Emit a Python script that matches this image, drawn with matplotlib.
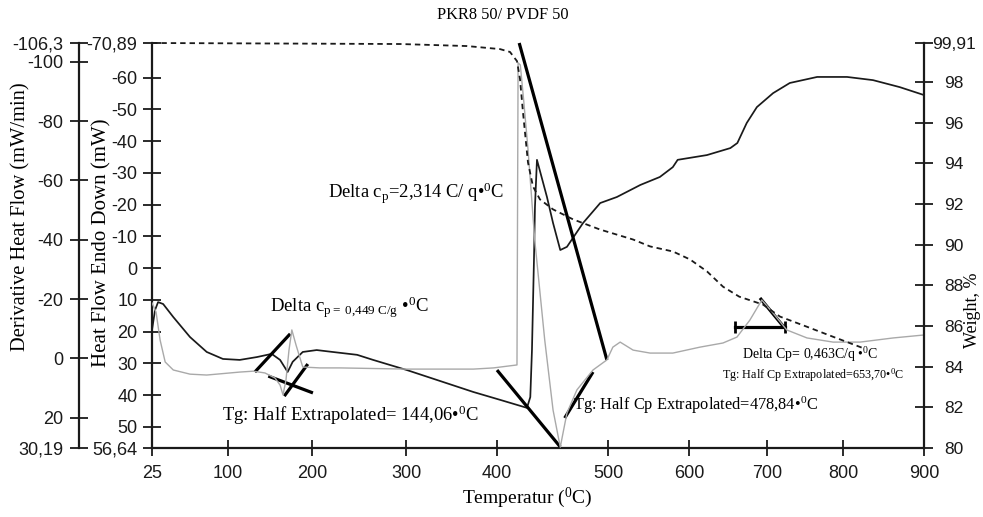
import numpy as np
import matplotlib

matplotlib.use("Agg")
import matplotlib.pyplot as plt

plt.rcParams["font.family"] = ["Liberation Serif", "DejaVu Serif"]
plt.rcParams["mathtext.fontset"] = "custom"
plt.rcParams["mathtext.rm"] = "Liberation Serif"
plt.rcParams["mathtext.it"] = "Liberation Serif:italic"

# x axis: printed temperature labels are not evenly spaced in the original
TEMP_TICKS = [25, 100, 200, 300, 400, 500, 600, 700, 800, 900]
TICK_POS = [152, 228, 312, 406, 497, 608, 689, 767, 843, 924]

# heat flow (mW), black solid
HF_T = [25, 28, 31, 36, 46, 62.5, 79, 95, 114, 134.5,
        152, 162, 171, 177, 189, 205, 222, 248, 265, 301,
        337, 374, 403, 427, 430, 431.5, 433.3, 434.2, 436, 445,
        450.5, 457, 463, 477.5, 493, 511, 540, 564, 580, 586,
        623, 653, 662, 674, 687, 708, 730, 766, 805, 837,
        870, 900]
HF = [19.5, 13.2, 10.7, 11.3, 15.4, 21.7, 26.4, 28.6, 28.9, 28.0,
      27.0, 28.9, 32.7, 29.5, 26.4, 25.8, 26.4, 27.3, 28.9, 32.1,
      35.5, 39.0, 41.5, 44.0, 40.6, 25.8, -2.6, -19.3, -34.1, -22.4,
      -14.2, -5.7, -6.7, -14.2, -20.5, -22.4, -26.2, -28.7, -31.8, -34.1,
      -35.6, -37.8, -39.4, -45.7, -50.7, -55.1, -58.3, -60.2, -60.2, -59.2,
      -57.0, -54.5]

# derivative heat flow (mW/min), grey
DHF_T = [25, 29, 33, 38, 46, 62.5, 79, 114, 130, 144,
         156, 162, 165.5, 169, 172.6, 176, 181, 189, 208.5, 230,
         301, 374, 396, 418, 419, 421, 424, 428, 434, 443,
         450.5, 457, 463, 472, 486.5, 499, 506, 515, 531, 552,
         580, 614, 643.6, 661.5, 678, 693.4, 708, 726, 752.6, 787,
         821, 862, 900]
DHF = [-18.7, -15.6, -6.2, 1.2, 3.9, 5.3, 5.6, 4.6, 4.3, 4.9,
       6.6, 9.0, 12.3, 7.3, -2.8, -9.6, -4.5, 2.9, 3.2, 3.2,
       3.6, 3.6, 3.2, 2.2, -99.6, -98.9, -87.1, -70.2, -39.9, -6.2,
       17.4, 29.9, 18.4, 10.6, 3.9, 0.5, -3.8, -5.5, -2.8, -1.8,
       -1.8, -3.8, -5.2, -7.2, -12.9, -19.7, -15.3, -9.6, -6.9, -5.5,
       -5.5, -6.9, -7.9]

# weight (%), dashed
W_T = [25, 294, 367, 402.7, 411.7, 418, 420.7, 423.4, 427.9, 432.4,
       438.7, 450.5, 468.5, 492.8, 530.9, 551.9, 580.2, 601.3, 623.1, 643.6,
       664.4, 694.9, 717.1, 752.6, 786.8, 823.5]
W = [99.91, 99.86, 99.76, 99.61, 99.47, 99.02, 98.14, 96.51, 94.04, 92.86,
     92.22, 91.73, 91.24, 90.74, 90.25, 89.91, 89.66, 89.27, 88.68, 87.93,
     87.44, 87.05, 86.46, 85.96, 85.47, 84.93]

# tangent construction lines (temperature, heat flow)
TAN_T = [[132, 174], [148, 201], [167, 195], [420, 499], [400, 457], [461, 486.5], [691, 722]]
TAN_H = [[32.7, 20.7], [34.0, 39.3], [40.3, 30.2], [-70.89, 28.9], [32.1, 56.3], [47.2, 32.7], [9.4, 18.5]]
STEP_T = [659, 724]
STEP_H = [18.5, 18.5]

HF_TICKS = [-70.89, -60, -50, -40, -30, -20, -10, 0, 10, 20, 30, 40, 50, 56.64]
DHF_TICKS = [-106.3, -100, -80, -60, -40, -20, 0, 20, 30.19]
W_TICKS = [80, 82, 84, 86, 88, 90, 92, 94, 96, 98, 99.91]


def lab(v):
    return f"{v:g}".replace(".", ",")


def fwd(t):
    return np.interp(t, TEMP_TICKS, TICK_POS)


def inv(p):
    return np.interp(p, TICK_POS, TEMP_TICKS)


INK = "#1a1a1a"
W_PX, H_PX = 983, 517
fig = plt.figure(figsize=(W_PX / 100, H_PX / 100), dpi=100)
ax = fig.add_axes([152 / W_PX, 1 - 448 / H_PX, (924 - 152) / W_PX, (448 - 43) / H_PX])
ax.set_xscale("function", functions=(fwd, inv))
ax_d = ax.twinx()
ax_w = ax.twinx()

ax.plot(HF_T, HF, color=INK, lw=1.25, zorder=4)
ax_d.plot(DHF_T, DHF, color="#a9a9a9", lw=1.0, zorder=3)
ax_w.plot(W_T, W, color=INK, lw=1.3, ls=(0, (3, 2.2)), clip_on=False)
for tt, hh in zip(TAN_T, TAN_H):
    ax.plot(tt, hh, color="black", lw=2.3, solid_capstyle="butt", clip_on=False, zorder=5)
ax.plot(STEP_T, STEP_H, color="black", lw=2.3, marker="|", ms=9, mew=2, zorder=5)

ax.set_xlim(25, 900)
ax.set_ylim(56.64, -70.89)
ax_d.set_ylim(30.19, -106.3)
ax_w.set_ylim(80, 99.91)

ax.set_xticks(TEMP_TICKS)
ax.set_xticklabels([str(t) for t in TEMP_TICKS])
ax.set_yticks(HF_TICKS)
ax.set_yticklabels([lab(v) for v in HF_TICKS])
ax_d.set_yticks(DHF_TICKS)
ax_d.set_yticklabels([lab(v) for v in DHF_TICKS])
ax_w.set_yticks(W_TICKS)
ax_w.set_yticklabels([lab(v) for v in W_TICKS], ha="center")

ax_d.yaxis.set_ticks_position("left")
ax_d.yaxis.set_label_position("left")
ax_d.spines["left"].set_position(("outward", 73 * 0.72))

for a in (ax, ax_d, ax_w):
    for sp in a.spines.values():
        sp.set_visible(False)
        sp.set_linewidth(1.6)
        sp.set_color(INK)
    a.tick_params(direction="inout", length=13, width=1.3, colors=INK,
                  labelsize=13, labelfontfamily="Liberation Sans")
ax.spines["left"].set_visible(True)
ax.spines["bottom"].set_visible(True)
ax_d.spines["left"].set_visible(True)
ax_w.spines["right"].set_visible(True)
ax.tick_params(axis="x", length=12, pad=6)
ax.tick_params(axis="y", pad=4)
ax_d.tick_params(axis="y", pad=5)
ax_w.tick_params(axis="y", pad=15, labelsize=12.5)

ax_d.set_ylabel("Derivative Heat Flow (mW/min)", fontsize=14.8)
ax_d.yaxis.set_label_coords(-0.158, 0.57)
ax.set_ylabel("Heat Flow Endo Down (mW)", fontsize=15)
ax.yaxis.set_label_coords(-0.052, 0.508)
ax_w.set_ylabel("Weight, %", fontsize=13)
ax_w.yaxis.set_label_coords(1.052, 0.34)
ax.set_xlabel(r"Temperatur ($^\mathrm{0}$C)", fontsize=14)
ax.xaxis.set_label_coords(0.486, -0.093)

fig.text(0.512, 0.971, "PKR8 50/ PVDF 50", ha="center", va="center", fontsize=11.8)

ax.text(217, -23.7, r"Delta c$_\mathrm{p}$=2,314 C/ q•$^\mathrm{0}$C", fontsize=13.4, va="center")
ax.text(150, 12.5, r"Delta c$_\mathrm{p=\ 0{,}449\ C/g}$ •$^\mathrm{0}$C", fontsize=13.5, va="center")
ax.text(94, 46.2, r"Tg: Half Extrapolated= 144,06•$^\mathrm{0}$C", fontsize=13.4, va="center")
ax.text(468.5, 43.1, r"Tg: Half Cp Extrapolated=478,84•$^\mathrm{0}$C", fontsize=11.8, va="center")
ax.text(668, 27.3, r"Delta Cp= 0,463C/q •$^\mathrm{0}$C", fontsize=10, va="center")
ax.text(642, 33.6, r"Tg: Half Cp Extrapolated=653,70•$^\mathrm{0}$C", fontsize=8.7, va="center")

fig.savefig("out.png", dpi=100)
